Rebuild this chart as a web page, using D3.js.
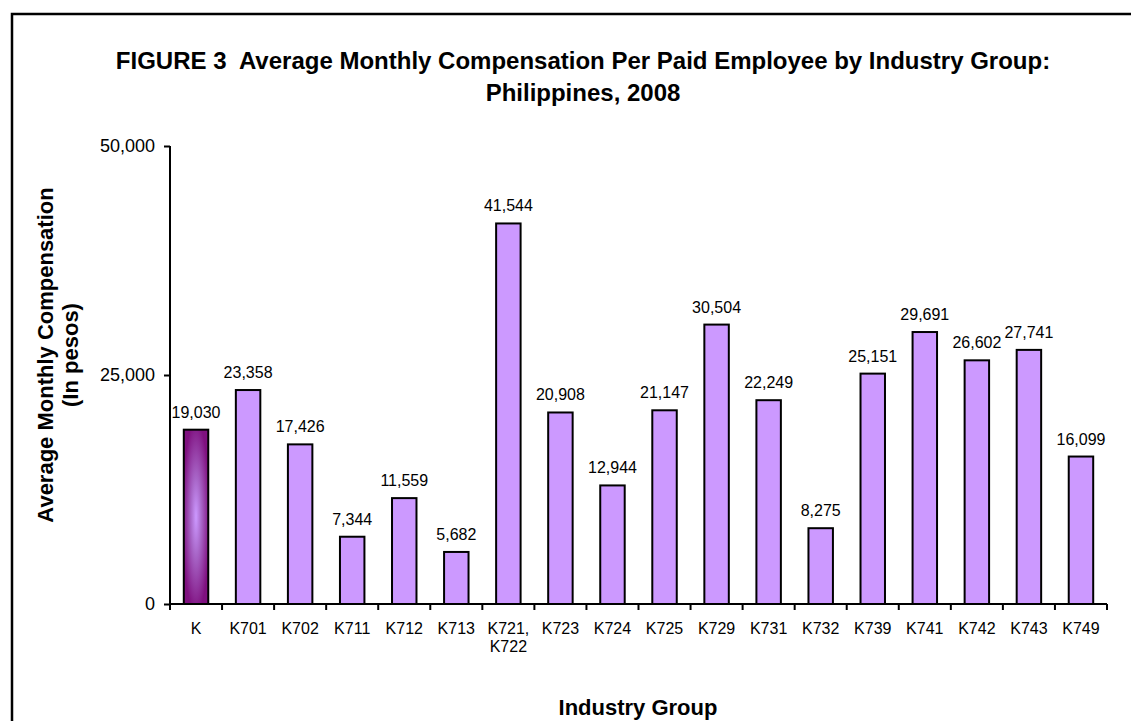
<!DOCTYPE html>
<html>
<head>
<meta charset="utf-8">
<script src="https://cdn.jsdelivr.net/npm/d3@7"></script>
<style>
  body { margin: 0; background: #fff; }
  svg { display: block; font-family: Arial, "Liberation Sans", sans-serif; }
</style>
</head>
<body>
<div id="chart"></div>
<script>
// chart values
var groups = ["K", "K701", "K702", "K711", "K712", "K713", "K721, K722", "K723", "K724",
  "K725", "K729", "K731", "K732", "K739", "K741", "K742", "K743", "K749"];
var compensation = [19030, 23358, 17426, 7344, 11559, 5682, 41544, 20908, 12944,
  21147, 30504, 22249, 8275, 25151, 29691, 26602, 27741, 16099];
var yTicks = [0, 25000, 50000];
var titleLines = ["FIGURE 3  Average Monthly Compensation Per Paid Employee by Industry Group:",
  "Philippines, 2008"];
var yTitleLines = ["Average Monthly Compensation", "(In pesos)"];
var xTitle = "Industry Group";

var svgWidth = 1131;
var svgHeight = 721;

var margin = { top: 146, left: 170, right: 24, bottom: 117 };
var width = svgWidth - margin.left - margin.right;
var height = svgHeight - margin.top - margin.bottom;

var data = groups.map(function(g, i) { return { group: g, value: compensation[i] }; });

var svg = d3.select("#chart")
  .append("svg")
  .attr("width", svgWidth)
  .attr("height", svgHeight);

svg.append("rect")
  .attr("width", svgWidth)
  .attr("height", svgHeight)
  .attr("fill", "#fff");

// outer chart frame (runs off the right and bottom edge)
svg.append("rect")
  .attr("x", 12)
  .attr("y", 14)
  .attr("width", 1200)
  .attr("height", 800)
  .attr("fill", "none")
  .attr("stroke", "#000")
  .attr("stroke-width", 2.5);

// gradient for the total bar
var defs = svg.append("defs");
var grad = defs.append("radialGradient")
  .attr("id", "totalFill")
  .attr("cx", 0.5).attr("cy", 0.5).attr("r", 0.55);
grad.append("stop").attr("offset", "0%").attr("stop-color", "#cc99ff");
grad.append("stop").attr("offset", "40%").attr("stop-color", "#a866c8");
grad.append("stop").attr("offset", "100%").attr("stop-color", "#7f107f");

var chartGroup = svg.append("g")
  .attr("transform", `translate(${margin.left}, ${margin.top})`);

// scales
var xScale = d3.scaleBand()
  .domain(groups)
  .range([0, width])
  .paddingInner(0.53)
  .paddingOuter(0.265);

var yScale = d3.scaleLinear()
  .domain([0, 50000])
  .range([height, 0]);

// bars
chartGroup.selectAll(".bar")
  .data(data)
  .enter()
  .append("rect")
  .attr("class", "bar")
  .attr("x", d => xScale(d.group))
  .attr("y", d => yScale(d.value))
  .attr("width", xScale.bandwidth())
  .attr("height", d => height - yScale(d.value))
  .attr("fill", (d, i) => i === 0 ? "url(#totalFill)" : "#cc99ff")
  .attr("stroke", "#000")
  .attr("stroke-width", 2);

// value labels
chartGroup.selectAll(".val")
  .data(data)
  .enter()
  .append("text")
  .attr("class", "val")
  .attr("x", d => xScale(d.group) + xScale.bandwidth() / 2)
  .attr("y", d => yScale(d.value) - 12)
  .attr("text-anchor", "middle")
  .attr("font-size", 16)
  .attr("fill", "#000")
  .text(d => d3.format(",")(d.value));

// y axis
var yAxis = d3.axisLeft(yScale)
  .tickValues(yTicks)
  .tickSize(6)
  .tickPadding(9)
  .tickFormat(d3.format(","));

var yG = chartGroup.append("g").call(yAxis);
yG.select(".domain").attr("d", `M0,0V${height + 6}`).attr("stroke-width", 2);
yG.selectAll(".tick line").attr("stroke-width", 2);
yG.selectAll(".tick text").attr("font-size", 18).attr("font-family", null).attr("fill", "#000");

// x axis: labels under the bars, ticks at the category boundaries
var xAxis = d3.axisBottom(xScale)
  .tickSize(0)
  .tickPadding(18.5);

var xG = chartGroup.append("g")
  .attr("transform", `translate(0, ${height})`)
  .call(xAxis);
xG.select(".domain").attr("d", `M0,0H${width}`).attr("stroke-width", 2);
xG.selectAll(".tick text")
  .attr("font-size", 16)
  .attr("font-family", null)
  .attr("fill", "#000")
  .each(function(d) {
    var parts = d.split(" ");
    if (parts.length > 1) {
      var t = d3.select(this);
      t.text(null);
      parts.forEach(function(p, i) {
        t.append("tspan")
          .attr("x", 0)
          .attr("dy", i === 0 ? "0.71em" : "1.15em")
          .text(p);
      });
      t.attr("dy", null);
    }
  });

var bounds = groups.map(g => xScale(g) - xScale.step() * xScale.paddingOuter()).concat([width]);
xG.selectAll(".bound")
  .data(bounds)
  .enter()
  .append("line")
  .attr("class", "bound")
  .attr("x1", d => d).attr("x2", d => d)
  .attr("y1", 0).attr("y2", 6)
  .attr("stroke", "#000")
  .attr("stroke-width", 2);

// titles
var title = svg.append("text")
  .attr("text-anchor", "middle")
  .attr("font-size", 24)
  .attr("font-weight", "bold")
  .attr("fill", "#000")
  .style("white-space", "pre");
title.selectAll("tspan")
  .data(titleLines)
  .enter()
  .append("tspan")
  .attr("x", 583)
  .attr("y", (d, i) => 69 + i * 32)
  .text(d => d);

svg.selectAll(".ytitle")
  .data(yTitleLines)
  .enter()
  .append("text")
  .attr("class", "ytitle")
  .attr("transform", (d, i) => `translate(${53 + i * 25}, 355) rotate(-90)`)
  .attr("text-anchor", "middle")
  .attr("font-size", 22)
  .attr("font-weight", "bold")
  .attr("fill", "#000")
  .text(d => d);

svg.append("text")
  .attr("x", 638)
  .attr("y", 715)
  .attr("text-anchor", "middle")
  .attr("font-size", 22)
  .attr("font-weight", "bold")
  .attr("fill", "#000")
  .text(xTitle);
</script>
</body>
</html>
